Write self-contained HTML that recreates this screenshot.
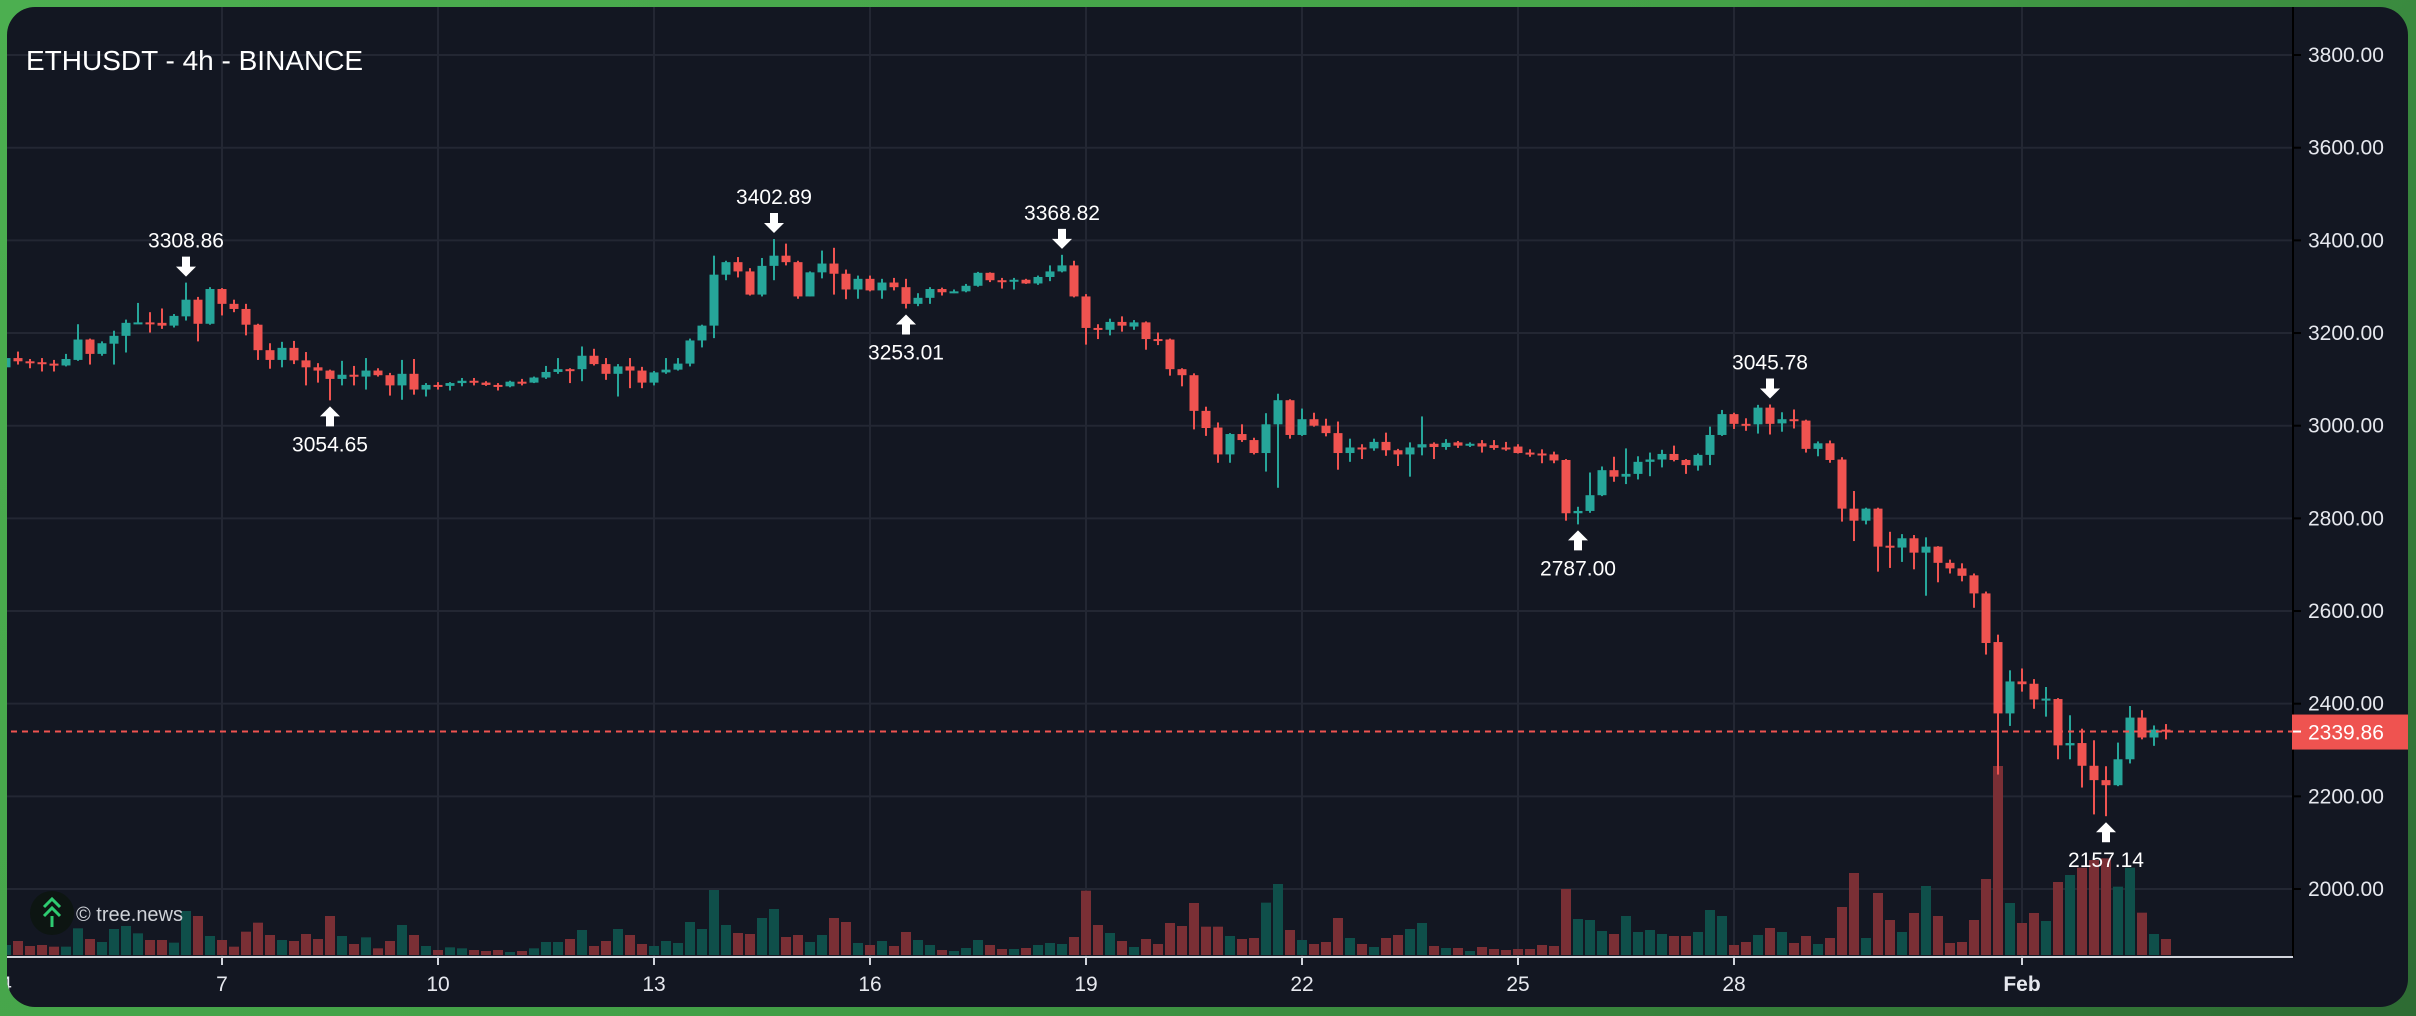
<!DOCTYPE html>
<html><head><meta charset="utf-8"><style>
html,body{margin:0;padding:0;width:2416px;height:1016px;overflow:hidden;background:linear-gradient(135deg,#4caf50 0%,#43a047 50%,#2e6b33 100%);font-family:"Liberation Sans",sans-serif;}
#frame{position:absolute;left:7px;top:7px;width:2401px;height:1000px;border-radius:28px;overflow:hidden;background:#131722;}
#chart{position:absolute;left:-7px;top:-7px;}
</style></head><body>
<div id="frame">
<svg id="chart" width="2416" height="1016" xmlns="http://www.w3.org/2000/svg"></svg>
</div>
<script>
const firstIndex = -18;
const opens = [3126,3146,3139,3137,3134,3130,3142,3186,3155,3177,3194,3221,3223,3222,3216,3236,3272,3220,
3295,3263,3252,3218,3163,3142,3168,3141,3126,3119,3101,3110,3106,3119,3109,3087,3112,3078,3088,3086,3092,3097,3093,3088,3085,3095,3093,3104,3116,
3122,3122,3151,3133,3112,3128,3119,3093,3115,3121,3134,3184,3216,3326,3353,3333,3283,3345,3367,3353,3279,3331,3350,3328,3294,3317,3292,3309,3299,3263,3276,3295,3288,3290,3302,3330,3314,3313,3315,3307,3321,3333,3346,
3279,3211,3207,3224,3214,3223,3187,3186,3122,3109,3032,2996,2938,2982,2969,2941,3003,3055,2980,3014,3000,2984,2941,2953,2951,2965,2947,2938,2953,2961,2954,2964,2957,2962,2958,2953,2955,2942,2940,2938,2926,2811,2816,2850,2904,2890,
2896,2922,2927,2939,2926,2914,2937,2980,3025,3004,3003,3039,3005,3014,3011,2950,2962,2927,2821,2795,2821,2741,2737,2757,2726,2739,2704,2692,2677,2638,2533,2379,2448,2443,2409,2410,2310,2315,2266,2235,2224,2280,2370,2327,2344];
const highs = [3150,3160,3144,3146,3142,3155,3219,3188,3182,3205,3229,3265,3245,3253,3241,3308.86,3278,3299,
3297,3272,3263,3220,3178,3181,3183,3159,3135,3121,3140,3129,3146,3124,3114,3142,3144,3092,3094,3094,3103,3103,3096,3092,3097,3101,3106,3129,3146,
3124,3171,3166,3146,3133,3146,3127,3118,3146,3146,3188,3218,3367,3356,3364,3340,3362,3402.89,3393,3356,3333,3378,3384,3337,3324,3324,3317,3319,3317,3286,3299,3298,3294,3306,3332,3331,3319,3319,3317,3324,3346,3368.82,3356,
3284,3219,3231,3236,3228,3225,3201,3188,3124,3113,3041,3007,2984,3003,2974,3027,3069,3057,3037,3028,3015,3009,2972,2960,2972,2985,2950,2964,3020,2964,2971,2967,2964,2969,2969,2965,2960,2949,2949,2944,2928,2825,2899,2912,2933,2951,
2934,2942,2948,2957,2928,2940,2998,3034,3028,3016,3045,3045.78,3029,3035,3013,2966,2968,2932,2859,2823,2823,2771,2766,2764,2759,2740,2711,2703,2681,2642,2549,2472,2476,2453,2436,2412,2375,2346,2321,2265,2316,2395,2386,2353,2356];
const lows = [3122,3132,3124,3117,3117,3128,3140,3132,3151,3132,3158,3220,3201,3209,3212,3227,3182,3218,
3238,3245,3195,3142,3123,3126,3133,3087,3093,3054.65,3087,3087,3078,3106,3065,3056,3067,3063,3078,3076,3085,3087,3086,3076,3083,3087,3092,3101,3112,
3092,3096,3130,3099,3063,3081,3081,3087,3112,3119,3128,3169,3189,3314,3320,3281,3279,3314,3346,3274,3279,3318,3283,3273,3274,3290,3274,3292,3253.01,3258,3263,3281,3286,3288,3300,3310,3296,3294,3306,3304,3312,3331,3277,
3175,3187,3195,3203,3207,3164,3174,3108,3085,2992,2978,2920,2920,2965,2938,2901,2866,2972,2978,2998,2977,2905,2922,2928,2946,2935,2913,2890,2936,2928,2948,2952,2954,2942,2948,2946,2940,2933,2919,2919,2795,2787,2812,2848,2879,2874,
2884,2891,2910,2923,2896,2903,2915,2978,2993,2989,2983,2981,2987,2994,2942,2934,2920,2793,2751,2787,2685,2693,2706,2690,2633,2662,2681,2664,2607,2506,2247,2352,2426,2389,2372,2280,2280,2219,2161,2157.14,2222,2271,2323,2309,2323];
const closes = [3146,3139,3137,3134,3131,3144,3186,3155,3178,3194,3222,3223,3222,3216,3237,3272,3220,3295,
3263,3252,3218,3163,3142,3168,3141,3126,3119,3101,3110,3106,3119,3109,3087,3112,3078,3088,3086,3092,3097,3093,3088,3085,3095,3093,3104,3116,3122,
3121,3151,3133,3112,3128,3119,3093,3115,3121,3134,3184,3216,3326,3353,3333,3283,3345,3367,3353,3279,3331,3350,3328,3294,3317,3292,3309,3299,3263,3276,3295,3288,3290,3302,3330,3314,3313,3315,3307,3321,3333,3346,3279,
3211,3208,3224,3216,3223,3187,3186,3122,3109,3032,2995,2938,2982,2969,2941,3003,3055,2980,3014,3000,2984,2941,2953,2950,2965,2947,2938,2953,2960,2954,2963,2957,2961,2955,2952,2951,2941,2940,2938,2925,2811,2816,2850,2904,2890,2896,
2922,2927,2939,2926,2915,2937,2980,3025,3004,3003,3039,3004,3014,3011,2950,2962,2926,2821,2795,2821,2739,2739,2757,2726,2739,2704,2692,2676,2638,2531,2379,2448,2442,2409,2411,2310,2315,2266,2235,2224,2280,2370,2327,2344,2339.86];
const volumes = [30,42,27,30,25,25,80,48,39,78,87,65,45,45,37,132,117,57,
45,25,70,97,60,45,42,63,48,117,57,33,53,20,42,90,60,27,15,23,20,15,12,15,9,12,20,39,39,
48,75,27,42,78,60,33,27,42,36,99,78,195,90,66,63,111,138,54,60,39,60,111,99,36,30,42,27,69,45,30,15,12,21,45,30,18,18,21,30,36,33,54,
193,90,66,42,24,48,33,96,87,156,85,85,57,48,51,157,213,75,45,33,39,111,51,33,24,51,60,78,96,27,21,21,12,24,18,15,18,18,30,27,198,108,105,72,63,117,
69,75,63,57,57,69,135,117,30,39,60,81,69,36,57,33,51,144,246,51,186,105,69,126,207,117,36,39,105,228,567,156,96,126,102,219,240,262,285,290,205,262,127,63,48];
const priceTicks = [2000,2200,2400,2600,2800,3000,3200,3400,3600,3800];
const dayTicks = [-3,0,3,6,9,12,15,18,21,25];
const dayLabels = ["4","7","10","13","16","19","22","25","28","Feb"];
const markIdx = [-3,9,46,57,70,113,129,157];
const markPrice = [3308.86,3054.65,3402.89,3253.01,3368.82,2787.00,3045.78,2157.14];
const markType = ["high","low","high","low","high","low","high","low"];
const lastPrice = 2339.86;

const NS="http://www.w3.org/2000/svg";
const svg=document.getElementById('chart');
const PLOT_R=2293, AXIS_Y=957;
function xOf(i){return 222+12*i;}
function xDay(d){return 222+72*d;}
function yOf(p){return 889-(p-2000)*0.4633;}
function vh(v){return v/3;}
function el(tag,attrs,parent){const e=document.createElementNS(NS,tag);for(const k in attrs)e.setAttribute(k,attrs[k]);(parent||svg).appendChild(e);return e;}

const grid=el('g',{});


priceTicks.forEach(p=>{const l=el('line',{x1:0,x2:PLOT_R,y1:yOf(p),y2:yOf(p),stroke:'#232733','stroke-width':2},grid);

});
dayTicks.forEach(d=>{const l=el('line',{x1:xDay(d),x2:xDay(d),y1:0,y2:AXIS_Y,stroke:'#232733','stroke-width':2},grid);

});

const vg=el('g',{});


volumes.forEach((v,k)=>{const i=k+firstIndex;const up=closes[k]>=opens[k];const h=vh(v);
const r=el('rect',{x:xOf(i)-5,y:955-h,width:10,height:h,fill:up?'#0f4f4a':'#7a2f35'},vg);

});

const cg=el('g',{});


opens.forEach((o,k)=>{const i=k+firstIndex;const c=closes[k];const up=c>=o;const col=up?'#26a69a':'#ef5350';const x=xOf(i);
const g=el('g',{},cg);


el('rect',{x:x-1,y:yOf(highs[k]),width:2,height:Math.max(1,yOf(lows[k])-yOf(highs[k])),fill:col},g);
const top=yOf(Math.max(o,c)),bot=yOf(Math.min(o,c));
el('rect',{x:x-4.5,y:top,width:9,height:Math.max(2,bot-top),fill:col},g);});

const ag=el('g',{});


markIdx.forEach((i,k)=>{const x=xOf(i);const y=yOf(markPrice[k]);const g=el('g',{},ag);


let pts,ty;
if(markType[k]==='high'){const b=y-6,t=y-26;pts=[[x-4,t],[x+4,t],[x+4,b-10],[x+10,b-10],[x,b],[x-10,b-10],[x-4,b-10]];ty=y-35;}
else{const t=y+6,b=y+26;pts=[[x,t],[x+10,t+10],[x+4,t+10],[x+4,b],[x-4,b],[x-4,t+10],[x-10,t+10]];ty=y+51;}
el('polygon',{points:pts.map(p=>p.join(',')).join(' '),fill:'#ffffff'},g);
const t=el('text',{x:x,y:ty,'text-anchor':'middle','font-size':21,fill:'#ffffff','font-family':'Liberation Sans, sans-serif'},g);
t.textContent=markPrice[k].toFixed(2);});

const pl=el('line',{x1:0,x2:PLOT_R,y1:yOf(lastPrice),y2:yOf(lastPrice),stroke:'#ef5350','stroke-width':2,'stroke-dasharray':'6 5'});



const pa=el('g',{});


el('line',{x1:PLOT_R,x2:PLOT_R,y1:0,y2:AXIS_Y,stroke:'#000000','stroke-width':2},pa);
priceTicks.forEach(p=>{el('line',{x1:PLOT_R,x2:PLOT_R+8,y1:yOf(p),y2:yOf(p),stroke:'#000000','stroke-width':2},pa);
const t=el('text',{x:2308,y:yOf(p)+7,'font-size':21,fill:'#e6e8ee','font-family':'Liberation Sans, sans-serif'},pa);


t.textContent=p.toFixed(2);});
const lp=el('g',{},pa);


el('rect',{x:2292,y:yOf(lastPrice)-17,width:116,height:35,fill:'#ef5350'},lp);
el('line',{x1:PLOT_R,x2:PLOT_R+8,y1:yOf(lastPrice),y2:yOf(lastPrice),stroke:'#ffffff','stroke-width':2},lp);
const lpt=el('text',{x:2308,y:yOf(lastPrice)+8,'font-size':21,fill:'#ffffff','font-family':'Liberation Sans, sans-serif'},lp);
lpt.textContent=lastPrice.toFixed(2);

const ta=el('g',{});


el('line',{x1:0,x2:PLOT_R,y1:AXIS_Y,y2:AXIS_Y,stroke:'#d1d4dc','stroke-width':2},ta);
dayTicks.forEach((d,k)=>{el('line',{x1:xDay(d),x2:xDay(d),y1:AXIS_Y,y2:AXIS_Y+8,stroke:'#d1d4dc','stroke-width':2},ta);
const t=el('text',{x:xDay(d),y:991,'text-anchor':'middle','font-size':21,fill:'#e6e8ee','font-weight':dayLabels[k]==='Feb'?'bold':'normal','font-family':'Liberation Sans, sans-serif'},ta);


t.textContent=dayLabels[k];});

const title=el('text',{x:26,y:70,'font-size':28,fill:'#ffffff','font-family':'Liberation Sans, sans-serif'});


title.textContent='ETHUSDT - 4h - BINANCE';

const logo=el('g',{});


el('circle',{cx:52,cy:913,r:22,fill:'#0d1512'},logo);
el('polyline',{points:'44,907 52,899 60,907',fill:'none',stroke:'#2ecc71','stroke-width':3},logo);
el('polyline',{points:'44,916 52,908 60,916',fill:'none',stroke:'#2ecc71','stroke-width':3},logo);
el('line',{x1:52,x2:52,y1:916,y2:927,stroke:'#2ecc71','stroke-width':3},logo);
const lt=el('text',{x:76,y:921,'font-size':20,fill:'#cfd2d8','font-family':'Liberation Sans, sans-serif'},logo);
lt.textContent='© tree.news';
</script>
</body></html>
